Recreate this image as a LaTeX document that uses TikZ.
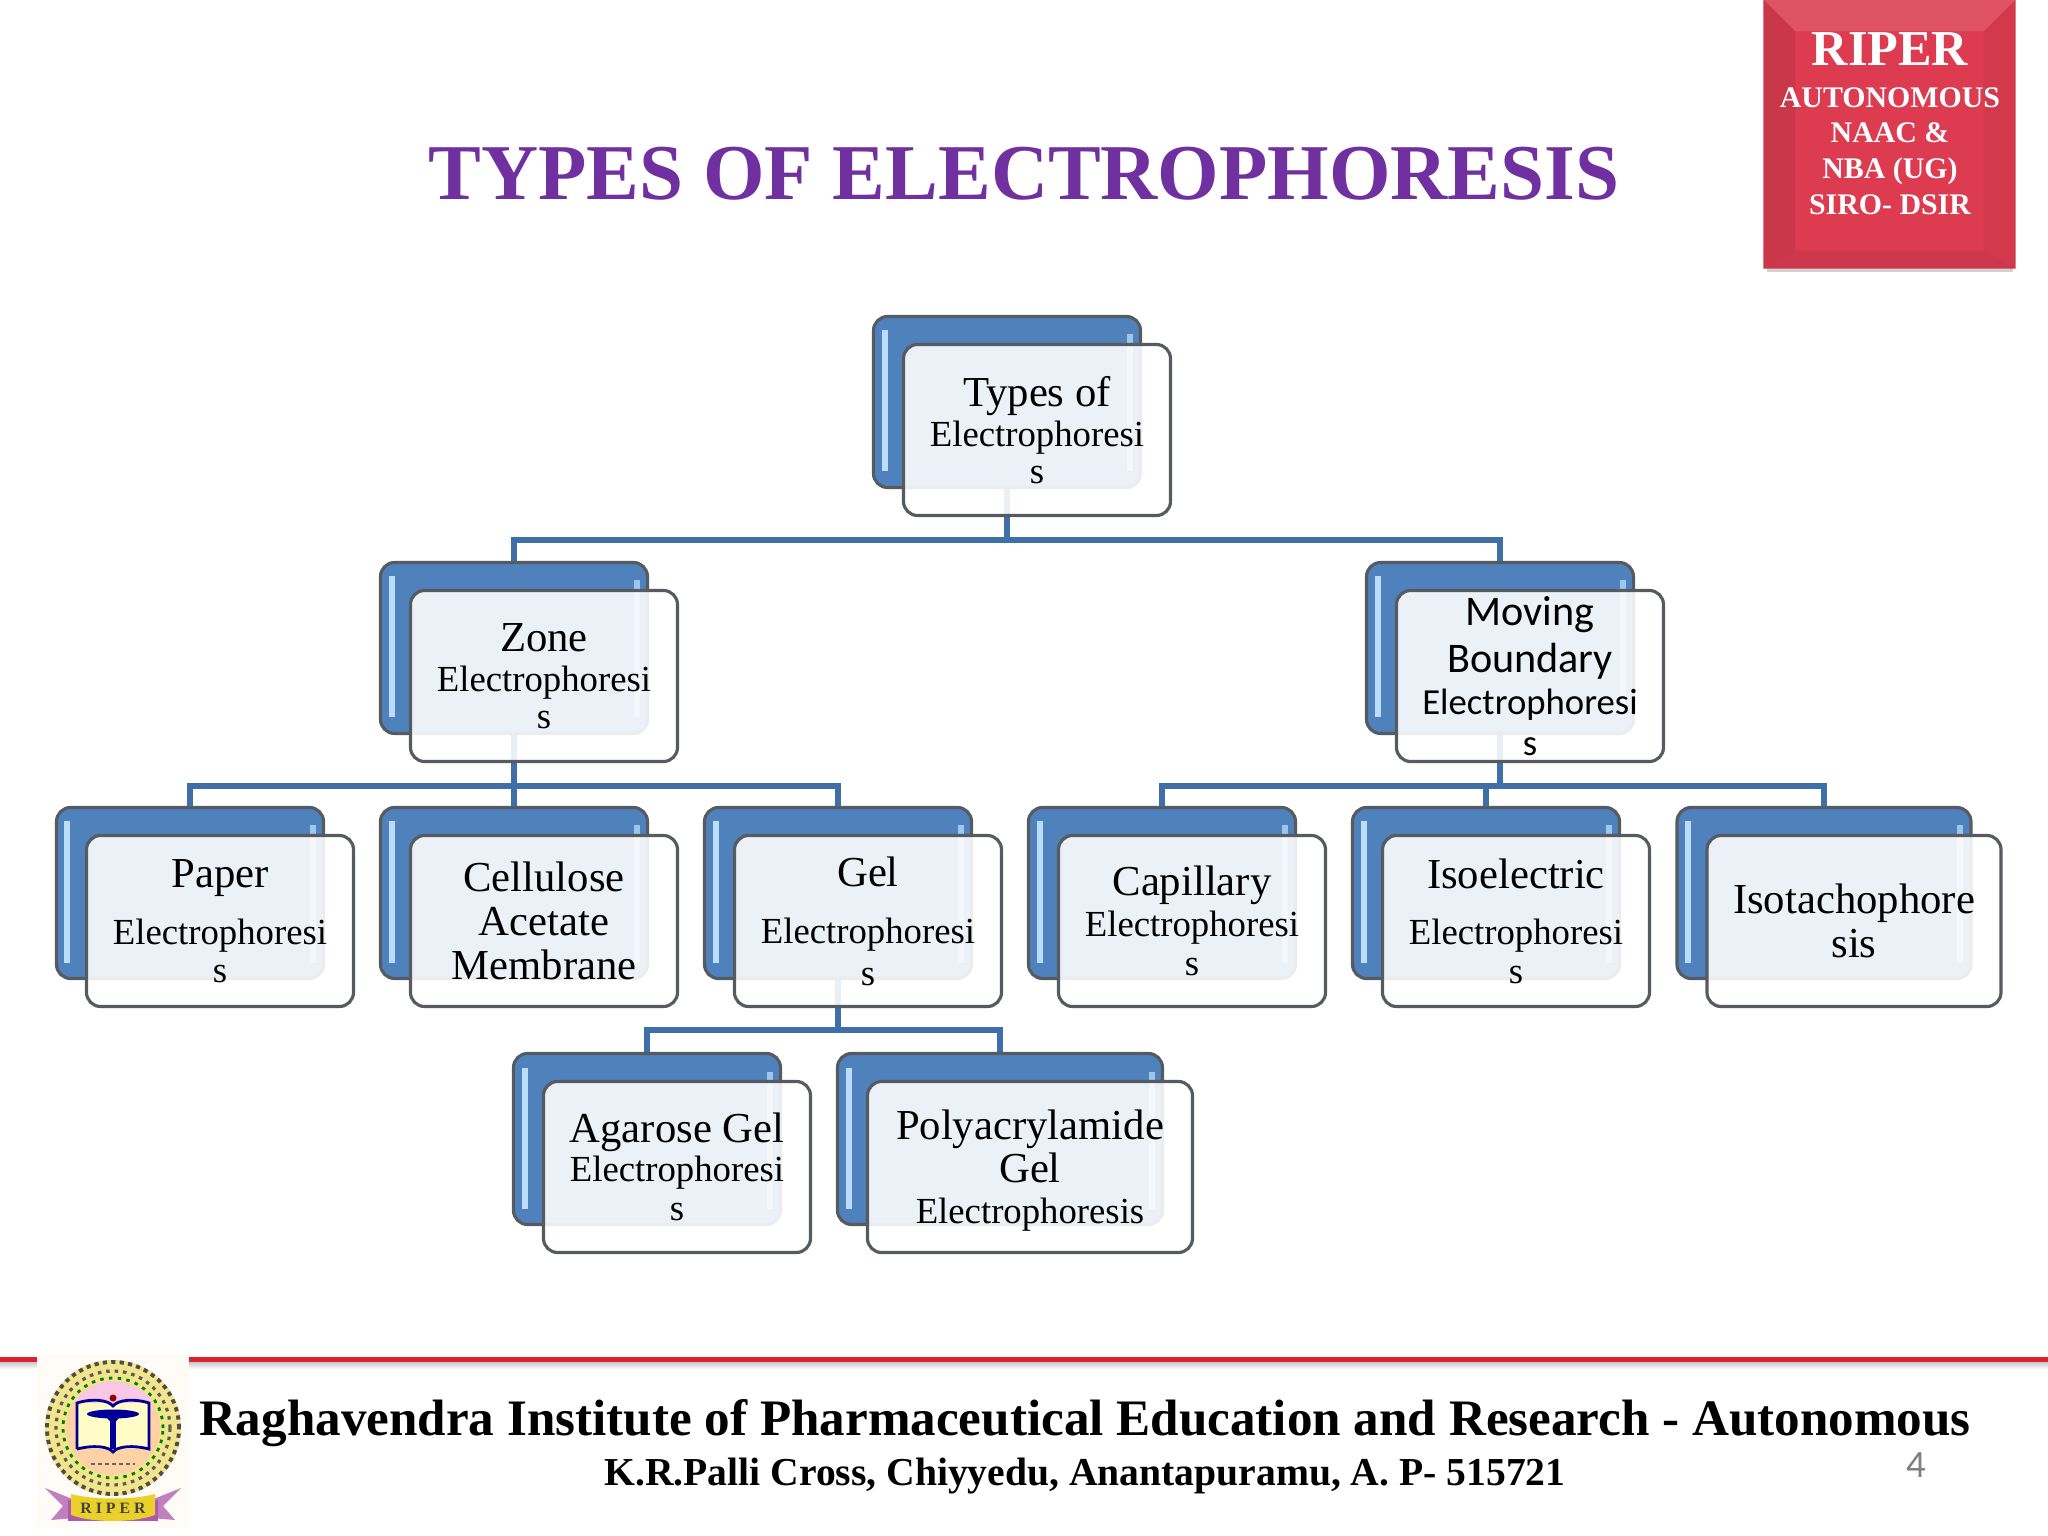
\documentclass[tikz,border=0pt]{standalone}
\usepackage{fontspec}
\setmainfont{Liberation Serif}
\newfontfamily\calibrifont{Carlito}
\usepackage{xcolor}
\usetikzlibrary{calc}
\definecolor{boxblue}{HTML}{4F81BD}
\definecolor{barblue}{HTML}{BBDCFA}
\definecolor{linkblue}{HTML}{3E6FA8}
\definecolor{edgegray}{HTML}{555B60}
\definecolor{titlepurple}{HTML}{7030A0}
\definecolor{badgered}{HTML}{DC3B50}
\definecolor{rulered}{HTML}{DC2230}
\newcommand{\bigtxt}{\fontsize{12.15}{14}\selectfont}
\newcommand{\sanstxt}{\calibrifont\fontsize{12}{14}\selectfont}

\begin{document}
\begin{tikzpicture}[
    backbox/.style={draw=edgegray, line width=0.9pt, fill=boxblue, rounded corners=4pt, inner sep=0pt, minimum width=2.67cm, minimum height=1.71cm,
        path picture={
            \fill[barblue, sharp corners] ([shift={(0.08,-0.14)}]path picture bounding box.north west) rectangle ([shift={(0.14,0.16)}]path picture bounding box.south west);
            \fill[barblue!75!boxblue, sharp corners] ([shift={(-0.14,-0.18)}]path picture bounding box.north east) rectangle ([shift={(-0.08,0.16)}]path picture bounding box.south east);
        }},
    card/.style={draw=edgegray, line width=0.9pt, fill=white, fill opacity=0.89, text opacity=1, rounded corners=4pt, inner sep=0pt, minimum width=2.67cm, minimum height=1.71cm, align=center, font=\fontsize{10.45}{12}\selectfont},
    link/.style={draw=linkblue, line width=1.7pt},
    badgeline/.style={text=white, font=\bfseries\fontsize{8.5}{10}\selectfont},
]
\useasboundingbox (0,0) rectangle (20.48,-15.36);

% Title
\node[text=titlepurple, font=\bfseries\fontsize{22.5}{26}\selectfont] (title) at (10.24, -1.74) {TYPES OF ELECTROPHORESIS};

% Badge
\fill[gray!35] (17.67, -2.68) rectangle (20.13, -2.72);
\node[fill=badgered, inner sep=0pt, minimum width=2.51cm, minimum height=2.68cm] (badge) at (18.895, -1.34) {};
\fill[badgered!92!black] (badge.north west) -- ($(badge.north west)+(0.32,-0.32)$) -- ($(badge.south west)+(0.32,0.18)$) -- (badge.south west) -- cycle;
\fill[badgered!96!black] (badge.north east) -- ($(badge.north east)+(-0.32,-0.32)$) -- ($(badge.south east)+(-0.32,0.18)$) -- (badge.south east) -- cycle;
\fill[badgered!88!white] (badge.north west) -- (badge.north east) -- ++(-0.32,-0.32) -- ($(badge.north west)+(0.32,-0.32)$) -- cycle;
\fill[badgered!93!black] (badge.south west) -- (badge.south east) -- ++(-0.32,0.18) -- ($(badge.south west)+(0.32,0.18)$) -- cycle;
\node[badgeline, font=\bfseries\fontsize{14.3}{16}\selectfont] (riper) at (18.90, -0.49) {RIPER};
\node[badgeline] (auto) at (18.90, -0.975) {AUTONOMOUS};
\node[badgeline] (naac) at (18.90, -1.33) {NAAC \&};
\node[badgeline] (nba) at (18.90, -1.71) {NBA (UG)};
\node[badgeline] (siro) at (18.90, -2.05) {SIRO- DSIR};

% Back boxes
\node[backbox] (typesBack) at (10.07, -4.02) {};
\node[backbox] (zoneBack) at (5.14, -6.48) {};
\node[backbox] (movingBack) at (15.00, -6.48) {};
\node[backbox] (paperBack) at (1.90, -8.93) {};
\node[backbox] (celluloseBack) at (5.14, -8.93) {};
\node[backbox] (gelBack) at (8.38, -8.93) {};
\node[backbox] (capillaryBack) at (11.62, -8.93) {};
\node[backbox] (isoBack) at (14.86, -8.93) {};
\node[backbox, minimum width=2.94cm] (isotachBack) at (18.24, -8.93) {};
\node[backbox] (agaroseBack) at (6.47, -11.39) {};
\node[backbox, minimum width=3.25cm] (polyBack) at (10.00, -11.39) {};

% Connectors
\draw[link] (typesBack.south) -- ++(0,-0.51) -| (zoneBack.north);
\draw[link] (typesBack.south) -- ++(0,-0.51) -| (movingBack.north);
\draw[link] (zoneBack.south) -- ++(0,-0.51) -| (paperBack.north);
\draw[link] (zoneBack.south) -- (celluloseBack.north);
\draw[link] (zoneBack.south) -- ++(0,-0.51) -| (gelBack.north);
\draw[link] (movingBack.south) -- ++(0,-0.51) -| (capillaryBack.north);
\draw[link] (movingBack.south) -- ++(0,-0.51) -| (isoBack.north);
\draw[link] (movingBack.south) -- ++(0,-0.51) -| (isotachBack.north);
\draw[link] (gelBack.south) -- ++(0,-0.50) -| (agaroseBack.north);
\draw[link] (gelBack.south) -- ++(0,-0.50) -| (polyBack.north);

% Cards
\node[card] (types) at (10.37, -4.30) {{\bigtxt Types of}\\[-0.7pt]Electrophoresi\\[-1.4pt]s};
\node[card] (zone) at (5.44, -6.76) {{\bigtxt Zone}\\[-0.7pt]Electrophoresi\\[-1.4pt]s};
\node[card, font=\calibrifont\fontsize{10.45}{12}\selectfont] (moving) at (15.30, -6.76) {{\sanstxt Moving}\\[1.4pt]{\sanstxt Boundary}\\[-0.1pt]Electrophoresi\\[-0.4pt]s};
\node[card] (paper) at (2.20, -9.21) {{\bigtxt Paper}\\[4.5pt]Electrophoresi\\[-1.3pt]s};
\node[card, font=\bigtxt] (cellulose) at (5.44, -9.21) {Cellulose\\[-1.4pt]Acetate\\[-1.4pt]Membrane};
\node[card] (gel) at (8.68, -9.21) {{\bigtxt Gel}\\[4.2pt]Electrophoresi\\s};
\node[card] (capillary) at (11.92, -9.21) {{\bigtxt Capillary}\\[-0.4pt]Electrophoresi\\[-1pt]s};
\node[card] (iso) at (15.16, -9.21) {{\bigtxt Isoelectric}\\[4.1pt]Electrophoresi\\[-1pt]s};
\node[card, font=\bigtxt, minimum width=2.94cm] (isotach) at (18.54, -9.21) {Isotachophore\\[-1.4pt]sis};
\node[card] (agarose) at (6.77, -11.67) {{\bigtxt Agarose Gel}\\[-0.8pt]Electrophoresi\\[-0.9pt]s};
\node[card, minimum width=3.25cm] (poly) at (10.30, -11.67) {{\rule{0pt}{10.4pt}\bigtxt Polyacrylamide}\\[0.4pt]{\bigtxt Gel}\\[-0.4pt]Electrophoresis};

% Footer rule
\shade[top color=gray!55, bottom color=white] (0,-13.60) rectangle (20.48,-13.69);
\node[fill=rulered, inner sep=0pt, minimum width=20.48cm, minimum height=0.05cm] (rule) at (10.24, -13.59) {};

% Footer text
\node[font=\bfseries\fontsize{14.55}{17}\selectfont] (institute) at (10.85, -14.23) {Raghavendra Institute of Pharmaceutical Education and Research - Autonomous};
\node[font=\bfseries\fontsize{11.27}{14}\selectfont] (address) at (10.85, -14.76) {K.R.Palli Cross, Chiyyedu, Anantapuramu, A. P- 515721};
\node[text=gray, font=\calibrifont\fontsize{11}{13}\selectfont] (pagenum) at (19.16, -14.65) {4};

% Seal
\begin{scope}[shift={(1.13,-14.28)}]
\fill[orange!3] (-0.76,-1.0) rectangle (0.76,0.74);
\fill[brown!40!yellow!50] (0,0) circle (0.68);
\draw[black!70, line width=1.1pt, dash pattern=on 1.2pt off 1.2pt] (0,0) circle (0.66);
\draw[black!65, line width=0.9pt, dash pattern=on 1pt off 1.4pt] (0,0) circle (0.57);
\draw[green!50!black, line width=0.8pt, dash pattern=on 1pt off 1.5pt] (0,0) circle (0.50);
\fill[orange!35] (0,0) circle (0.47);
\fill[magenta!22] (-0.38,0.10) -- (0.38,0.10) -- (0.38,0.29) arc (40:140:0.49) -- cycle;
\fill[yellow!22] (-0.36,-0.21) rectangle (0.36,0.25);
\draw[blue!55!black, line width=0.8pt] (-0.36,-0.21) -- (-0.36,0.25) .. controls (-0.2,0.30) and (-0.05,0.28) .. (0,0.22) .. controls (0.05,0.28) and (0.2,0.30) .. (0.36,0.25) -- (0.36,-0.21) .. controls (0.2,-0.17) and (0.05,-0.18) .. (0,-0.24) .. controls (-0.05,-0.18) and (-0.2,-0.17) .. (-0.36,-0.21);
\fill[blue!60!black] (-0.03,-0.21) rectangle (0.03,0.16);
\fill[blue!60!black] (0,0.14) ellipse (0.26 and 0.045);
\fill[blue!60!black] (0,0.12) circle (0.06);
\fill[red!60!black] (0,0.30) circle (0.035);
\draw[black!60, line width=0.6pt, dash pattern=on 1pt off 1pt] (-0.22,-0.36) -- (0.22,-0.36);
% ribbon
\fill[violet!50!white] (-0.68,-0.60) -- (-0.38,-0.72) -- (-0.38,-0.90) -- (-0.62,-0.92) -- (-0.50,-0.78) -- cycle;
\fill[violet!50!white] (0.68,-0.60) -- (0.38,-0.72) -- (0.38,-0.90) -- (0.62,-0.92) -- (0.50,-0.78) -- cycle;
\fill[violet!65!white] (-0.45,-0.93) rectangle (0.45,-0.72);
\fill[yellow!65!brown] (-0.42,-0.87) .. controls (-0.2,-0.95) and (0.2,-0.95) .. (0.42,-0.87) -- (0.42,-0.66) .. controls (0.2,-0.72) and (-0.2,-0.72) .. (-0.42,-0.66) -- cycle;
\node[text=black!75, font=\bfseries\fontsize{4.5}{5}\selectfont] (sealname) at (0,-0.80) {R I P E R};
\end{scope}

\end{tikzpicture}
\end{document}
